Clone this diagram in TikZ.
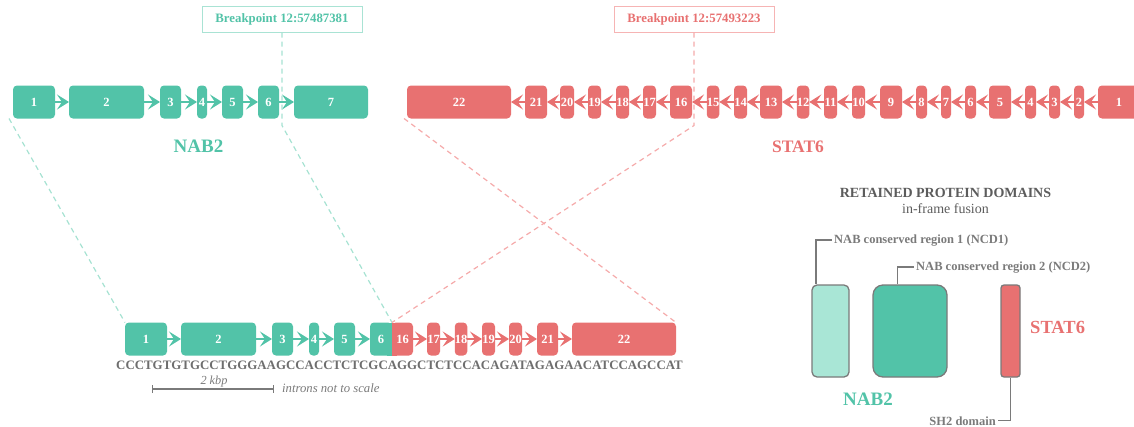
\documentclass[tikz,border=0pt]{standalone}
\usepackage{fontspec}
\setmainfont{Liberation Serif}
\usetikzlibrary{arrows.meta,calc}
\definecolor{exgreen}{HTML}{52C3A8}
\definecolor{exred}{HTML}{E87171}
\definecolor{palegreen}{HTML}{A9E6D6}
\definecolor{gdash}{HTML}{A6E2D2}
\definecolor{rdash}{HTML}{F5AAAA}
\definecolor{gbord}{HTML}{A9E3D4}
\definecolor{rbord}{HTML}{F6B4B4}
\definecolor{txtgray}{HTML}{6E6E6E}
\definecolor{headgray}{HTML}{5C5C5C}
\definecolor{linegray}{HTML}{7A7A7A}
\begin{document}
\begin{tikzpicture}[x=1pt,y=-1pt,
  exnum/.style={text=white, font=\bfseries\fontsize{12.5}{12.5}\selectfont},
  exon/.style={rectangle, rounded corners=4pt, inner sep=0pt, outer sep=0pt,
    minimum height=33pt, exnum},
  gex/.style={exon, fill=exgreen},
  rex/.style={exon, fill=exred},
  tip/.style={-{Stealth[length=12pt,width=15pt,inset=5pt]}},
  garr/.style={draw=exgreen, line width=2.2pt, tip},
  rarr/.style={draw=exred, line width=2.2pt, tip},
  gdashed/.style={draw=gdash, line width=1.2pt, dash pattern=on 5pt off 4pt},
  rdashed/.style={draw=rdash, line width=1.2pt, dash pattern=on 5pt off 4pt},
  bpbox/.style={rectangle, fill=white, line width=1pt, inner sep=0pt,
    minimum width=160pt, minimum height=26pt, font=\bfseries\fontsize{12.8}{13}\selectfont},
  genelab/.style={font=\bfseries\fontsize{19}{19}\selectfont, inner sep=0pt},
  protbox/.style={rectangle, draw=linegray, line width=1.3pt, inner sep=0pt},
  leader/.style={draw=linegray, line width=1.3pt},
  domlab/.style={text=linegray, font=\bfseries\fontsize{12.5}{13}\selectfont, inner sep=2pt},
  note/.style={text=linegray, font=\itshape\fontsize{12.3}{13}\selectfont, inner sep=0pt}
]
\useasboundingbox (0,0) rectangle (1134,426);
\clip (0,0) rectangle (1134,426);

% ---------- NAB2 exons ----------
\node[gex, minimum width=42pt] (n1) at (34,102) {1};
\node[gex, minimum width=75pt] (n2) at (106.5,102) {2};
\node[gex, minimum width=21pt] (n3) at (170.5,102) {3};
\node[gex, minimum width=10pt] (n4) at (202,102) {4};
\node[gex, minimum width=21pt] (n5) at (232.5,102) {5};
\node[gex, minimum width=21pt] (n6) at (268.5,102) {6};
\node[gex, minimum width=74pt] (n7) at (331,102) {7};
\foreach \a/\b in {n1/n2,n2/n3,n3/n4,n4/n5,n5/n6,n6/n7}
  \draw[garr] (\a.east) -- (\b.west);
\node[genelab, text=exgreen, anchor=base] (nablab) at (198.5,152) {NAB2};

% ---------- STAT6 exons (reverse strand) ----------
\node[rex, minimum width=104pt] (s22) at (459,102) {22};
\node[rex, minimum width=22pt] (s21) at (536,102) {21};
\node[rex, minimum width=14pt] (s20) at (567,102) {20};
\node[rex, minimum width=13pt] (s19) at (594.5,102) {19};
\node[rex, minimum width=13pt] (s18) at (622.5,102) {18};
\node[rex, minimum width=13pt] (s17) at (649.5,102) {17};
\node[rex, minimum width=22pt] (s16) at (681,102) {16};
\node[rex, minimum width=12pt] (s15) at (713,102) {15};
\node[rex, minimum width=13pt] (s14) at (740.5,102) {14};
\node[rex, minimum width=22pt] (s13) at (771,102) {13};
\node[rex, minimum width=12pt] (s12) at (803,102) {12};
\node[rex, minimum width=13pt] (s11) at (830.5,102) {11};
\node[rex, minimum width=13pt] (s10) at (858.5,102) {10};
\node[rex, minimum width=22pt] (s9) at (891,102) {9};
\node[rex, minimum width=11pt] (s8) at (921.5,102) {8};
\node[rex, minimum width=10pt] (s7) at (946,102) {7};
\node[rex, minimum width=11pt] (s6) at (970.5,102) {6};
\node[rex, minimum width=22pt] (s5) at (1000,102) {5};
\node[rex, minimum width=11pt] (s4) at (1030.5,102) {4};
\node[rex, minimum width=11pt] (s3) at (1054.5,102) {3};
\node[rex, minimum width=10pt] (s2) at (1079,102) {2};
\node[rex, minimum width=42pt] (s1) at (1119,102) {1};
\foreach \a/\b in {s1/s2,s2/s3,s3/s4,s4/s5,s5/s6,s6/s7,s7/s8,s8/s9,s9/s10,s10/s11,
  s11/s12,s12/s13,s13/s14,s14/s15,s15/s16,s16/s17,s17/s18,s18/s19,s19/s20,s20/s21,s21/s22}
  \draw[rarr] (\a.west) -- (\b.east);
\node[genelab, text=exred, font=\bfseries\fontsize{17.5}{18}\selectfont, anchor=base] (statlab) at (798,152) {STAT6};

% ---------- breakpoints ----------
\node[bpbox, draw=gbord, text=exgreen] (gbp) at (282,19) {Breakpoint 12:57487381};
\node[bpbox, draw=rbord, text=exred] (rbp) at (694,19) {Breakpoint 12:57493223};

% ---------- fusion transcript ----------
\node[gex, minimum width=42pt] (f1) at (146,339) {1};
\node[gex, minimum width=75pt] (f2) at (218.5,339) {2};
\node[gex, minimum width=21pt] (f3) at (282.5,339) {3};
\node[gex, minimum width=10pt] (f4) at (314,339) {4};
\node[gex, minimum width=21pt] (f5) at (344.5,339) {5};
\node[gex, minimum width=22pt] (f6) at (381,339) {};
\node[rex, minimum width=21pt] (f16) at (402.5,339) {};
\node[rex, minimum width=13pt] (f17) at (433.5,339) {17};
\node[rex, minimum width=12pt] (f18) at (461,339) {18};
\node[rex, minimum width=13pt] (f19) at (488.5,339) {19};
\node[rex, minimum width=13pt] (f20) at (515.5,339) {20};
\node[rex, minimum width=21pt] (f21) at (547.5,339) {21};
\node[rex, minimum width=104pt] (f22) at (624,339) {22};
% square off the junction between exon 6 and exon 16
\fill[exgreen] ($(f6.north east)+(-5,0)$) rectangle (f6.south east);
\fill[exred] (f16.north west) rectangle ($(f16.south west)+(5,0)$);
\node[exnum, inner sep=0pt] (f6num) at (f6) {6};
\node[exnum, inner sep=0pt] (f16num) at (f16) {16};
\foreach \a/\b in {f1/f2,f2/f3,f3/f4,f4/f5,f5/f6}
  \draw[garr] (\a.east) -- (\b.west);
\foreach \a/\b in {f16/f17,f17/f18,f18/f19,f19/f20,f20/f21,f21/f22}
  \draw[rarr] (\a.east) -- (\b.west);

\node[anchor=base west, inner sep=0pt, text=txtgray,
  font=\bfseries\fontsize{12.9}{13}\selectfont] (seq) at (116,369.5)
  {CCCTGTGTGCCTGGGAAGCCACCTCTCGCAGGCTCTCCACAGATAGAGAACATCCAGCCAT};

% scale bar
\coordinate (sbL) at (152,389);
\coordinate (sbR) at (274,389);
\draw[linegray, line width=1.2pt, {Bar[width=8pt]}-{Bar[width=8pt]}] (sbL) -- (sbR);
\node[note, anchor=base] (kbp) at (214,384) {2 kbp};
\node[note, anchor=base west, font=\itshape\fontsize{12.7}{13}\selectfont] (scl) at (282,392) {introns not to scale};

% ---------- breakpoint guide lines ----------
\draw[gdashed] ($(n1.south west)+(-4,0)$) -- (f1.north west);
\draw[gdashed] (gbp.south) -- ++(0,93) -- (f6.north east);
\draw[rdashed] (rbp.south) -- ++(0,93) -- (f16.north west);
\draw[rdashed] ($(s22.south west)+(-3,0)$) -- (f22.north east);

% ---------- retained protein domains ----------
\node[anchor=base, inner sep=0pt, text=headgray, font=\bfseries\fontsize{14}{14}\selectfont]
  (dhead) at (945.5,197) {RETAINED PROTEIN DOMAINS};
\node[anchor=base, inner sep=0pt, text=headgray, font=\fontsize{14}{14}\selectfont]
  (dsub) at (945.5,213) {in-frame fusion};

\node[protbox, fill=palegreen, rounded corners=5pt, minimum width=37pt, minimum height=92pt] (ncd1) at (830.5,331) {};
\node[protbox, fill=exgreen, rounded corners=10pt, minimum width=74pt, minimum height=92pt] (ncd2) at (910,331) {};
\node[protbox, fill=exred, rounded corners=3pt, minimum width=19pt, minimum height=92pt] (sh2) at (1010.5,331) {};

\node[domlab, anchor=base west] (l1) at (832,243) {NAB conserved region 1 (NCD1)};
\node[domlab, anchor=base west] (l2) at (914,270) {NAB conserved region 2 (NCD2)};
\node[domlab, anchor=base east] (l3) at (998,425) {SH2 domain};
\draw[leader] ($(ncd1.north west)+(4.5,0)$) |- (l1.west);
\draw[leader] ($(ncd2.north west)+(25,0)$) |- (l2.west);
\draw[leader] (sh2.south) |- (l3.east);

\node[genelab, text=exgreen, anchor=base] (nabp) at (868,405) {NAB2};
\node[genelab, text=exred, font=\bfseries\fontsize{18.5}{19}\selectfont, anchor=base west] (statp) at (1030,333) {STAT6};
\end{tikzpicture}
\end{document}
